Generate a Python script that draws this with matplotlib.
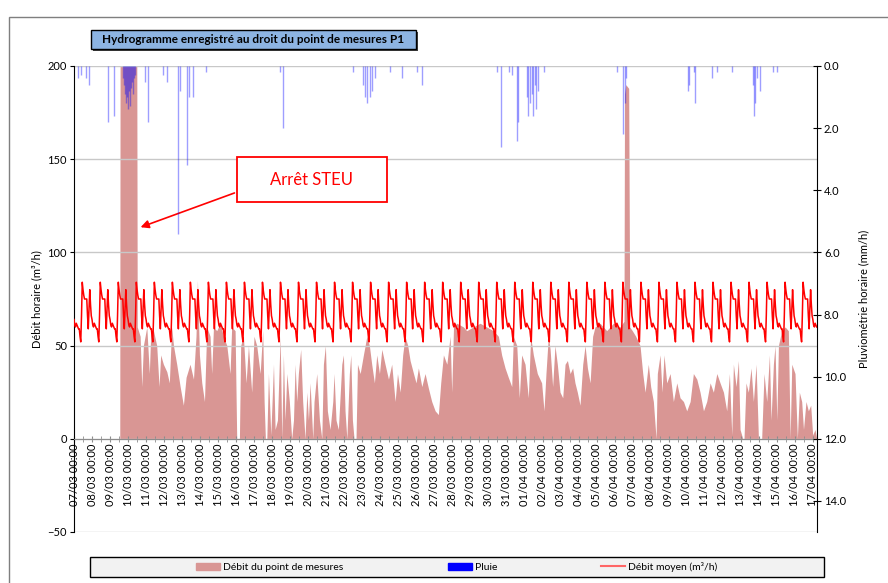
import numpy as np
import pandas as pd
import matplotlib
matplotlib.use('Agg')
import matplotlib.pyplot as plt
import matplotlib.dates as mdates
from matplotlib.patches import Rectangle, Patch
from matplotlib.lines import Line2D

plt.rcParams['font.family'] = ['Lato', 'DejaVu Sans']

# --- données (jours depuis le 07/03 00:00) ---
start = pd.Timestamp('2014-03-07 00:00')

# débit du point de mesures (m3/h), sommets du polygone
flow_days = [0.0, 2.54, 2.56, 3.48, 3.51, 3.67, 3.76, 3.85, 4.04, 4.18, 4.26, 4.41, 4.59,
             4.72, 4.81, 4.96, 5.15, 5.29, 5.42, 5.52, 5.70, 5.89, 6.07, 6.22, 6.44, 6.63,
             6.77, 6.85, 6.96, 7.09, 7.24, 7.37, 7.55, 7.64, 7.74, 7.92, 8.11, 8.29, 8.48,
             8.66, 8.75, 8.94, 9.03, 9.18, 9.25, 9.40, 9.55, 9.68, 9.86, 9.99, 10.14, 10.33,
             10.47, 10.55, 10.62, 10.70, 10.79, 10.92, 11.07, 11.16, 11.29, 11.44, 11.53,
             11.62, 11.71, 11.81, 11.95, 12.08, 12.18, 12.27, 12.36, 12.45, 12.58, 12.69,
             12.82, 12.92, 13.01, 13.10, 13.25, 13.32, 13.47, 13.62, 13.75, 13.84, 13.95,
             14.06, 14.21, 14.36, 14.43, 14.54, 14.67, 14.86, 14.95, 15.04, 15.14, 15.28,
             15.36, 15.45, 15.54, 15.65, 15.73, 15.88, 16.06, 16.25, 16.39, 16.52, 16.67,
             16.80, 16.95, 17.08, 17.26, 17.45, 17.63, 17.82, 17.95, 18.10, 18.24, 18.37,
             18.52, 18.65, 18.84, 18.98, 19.11, 19.30, 19.48, 19.67, 19.85, 20.04, 20.22,
             20.35, 20.50, 20.69, 20.87, 20.96, 21.06, 21.24, 21.61, 21.79, 22.16, 22.53,
             22.90, 23.27, 23.55, 23.73, 23.92, 24.10, 24.29, 24.38, 24.57, 24.71, 24.84,
             25.03, 25.21, 25.34, 25.49, 25.71, 25.95, 26.08, 26.19, 26.32, 26.42, 26.56,
             26.69, 26.82, 26.97, 27.12, 27.25, 27.38, 27.53, 27.67, 27.80, 27.93, 28.08,
             28.23, 28.36, 28.49, 28.64, 28.78, 28.91, 29.19, 29.56, 29.93, 30.30, 30.52,
             30.55, 30.62, 30.78, 30.84, 30.98, 31.17, 31.41, 31.56, 31.69, 31.87, 32.00,
             32.15, 32.30, 32.37, 32.52, 32.63, 32.74, 32.89, 33.08, 33.26, 33.45, 33.63,
             33.82, 34.00, 34.19, 34.37, 34.56, 34.74, 34.93, 35.11, 35.30, 35.48, 35.67,
             35.85, 36.04, 36.22, 36.37, 36.50, 36.59, 36.74, 36.87, 36.96, 37.11, 37.18,
             37.29, 37.42, 37.57, 37.70, 37.85, 37.98, 38.16, 38.29, 38.44, 38.59, 38.68,
             38.81, 38.90, 39.00, 39.09, 39.27, 39.46, 39.64, 39.74, 39.83, 40.01, 40.14,
             40.25, 40.38, 40.48, 40.62, 40.75, 40.88, 40.99, 41.12, 41.21]
flow_vals = [0, 0, 230, 230, 60, 55, 28, 50, 60, 35, 57, 58, 50,
             28, 45, 40, 36, 30, 60, 50, 40, 28, 18, 33, 40, 32,
             55, 85, 45, 30, 20, 60, 55, 35, 60, 58, 62, 55, 50,
             35, 60, 58, 0, 0, 50, 55, 30, 50, 25, 55, 50, 35,
             58, 20, 0, 0, 35, 2, 40, 5, 10, 55, 0,
             45, 10, 35, 20, 0, 10, 40, 20, 35, 48, 20,
             0, 25, 10, 30, 0, 20, 35, 10, 0, 40, 50,
             15, 5, 20, 35, 10, 5, 40, 45, 15, 0, 35,
             45, 10, 0, 0, 40, 35, 45, 55, 50, 40, 30,
             45, 35, 48, 40, 32, 40, 20, 35, 25, 45, 55,
             50, 42, 35, 30, 38, 28, 35, 27, 20, 15, 13,
             30, 45, 40, 55, 25, 60, 62, 60, 58, 60, 62,
             60, 58, 55, 45, 38, 33, 28, 55, 50, 22, 45,
             40, 22, 55, 45, 35, 30, 15, 35, 55, 48, 28,
             50, 40, 25, 22, 40, 42, 35, 38, 30, 25, 18,
             40, 50, 38, 30, 55, 60, 62, 58, 62, 60, 63,
             185, 190, 188, 60, 58, 55, 50, 35, 25, 40, 28,
             20, 0, 35, 45, 25, 45, 30, 35, 20, 30, 22,
             20, 15, 20, 35, 32, 25, 15, 20, 30, 25, 35,
             30, 25, 15, 35, 2, 40, 28, 42, 5, 0, 0,
             30, 25, 38, 20, 40, 0, 0, 35, 20, 45, 10,
             40, 50, 10, 50, 58, 60, 58, 0, 40, 35, 0,
             25, 20, 5, 20, 15, 18, 2, 5, 0]

# débit moyen : profil horaire journalier (0h -> 23h)
mean_profile = [64, 61, 60, 62, 61, 60, 59, 59, 55, 52, 66, 84,
                80, 77, 75, 75, 75, 75, 66, 59, 70, 80, 72, 66]

# pluie (mm/h)
rain_days = [0.22, 0.37, 0.67, 0.85, 1.89, 2.22, 2.72, 2.77, 2.83, 2.89, 2.94, 3.00,
             3.05, 3.11, 3.16, 3.22, 3.27, 3.33, 3.39, 3.94, 4.11, 4.94, 5.16, 5.77,
             5.88, 6.27, 6.38, 6.60, 7.33, 11.43, 11.60, 15.48, 16.04, 16.15, 16.26,
             16.43, 16.54, 16.70, 17.54, 18.20, 19.03, 19.31, 23.47, 23.70, 24.14,
             24.31, 24.58, 24.64, 25.14, 25.19, 25.30, 25.42, 25.47, 25.58, 25.64,
             25.75, 26.08, 30.13, 30.47, 30.58, 30.63, 34.07, 34.13, 34.41, 34.46,
             35.41, 35.68, 36.52, 37.68, 37.74, 37.79, 37.90, 38.07, 38.79, 39.01]
rain_vals = [0.4, 0.3, 0.4, 0.6, 1.8, 1.6, 0.4, 0.6, 0.9, 1.2, 1.0, 1.4,
             0.8, 1.3, 0.7, 0.5, 0.9, 0.4, 0.3, 0.5, 1.8, 0.3, 0.5, 5.4,
             0.8, 3.2, 1.0, 1.0, 0.2, 0.2, 2.0, 0.2, 0.6, 1.0, 1.2,
             1.0, 0.8, 0.4, 0.2, 0.4, 0.2, 0.6, 0.2, 2.6, 0.2,
             0.3, 2.4, 1.8, 1.0, 1.6, 1.2, 0.9, 1.6, 0.6, 1.4,
             0.8, 0.2, 0.2, 2.2, 1.2, 0.4, 0.8, 0.6, 0.2, 1.2,
             0.4, 0.2, 0.2, 0.6, 1.6, 1.2, 0.4, 0.8, 0.2, 0.2]

n_days = 41
x_end = start + pd.Timedelta(days=41.23)

flow_t = start + pd.to_timedelta(flow_days, unit='D')
rain_t = start + pd.to_timedelta(rain_days, unit='D')
mean_t = pd.date_range(start, x_end, freq='h')
mean_v = np.tile(mean_profile, n_days + 1)[:len(mean_t)]

# --- figure ---
fig = plt.figure(figsize=(8.88, 5.83), dpi=100)
ax = fig.add_axes([74/888, 1-532/583, (817-74)/888, (532-66)/583])

# cadre extérieur
fig.add_artist(Rectangle((9/888, -0.1), 1.2, 1.1 - 17/583, transform=fig.transFigure,
                         fill=False, ec='#7f7f7f', lw=1))

ax.fill_between(flow_t, flow_vals, color='#d99694', lw=0, zorder=1)
ax.plot(mean_t, mean_v, color='#ff0000', lw=1.1, zorder=3)

ax.set_ylim(-50, 200)
ax.set_yticks([-50, 0, 50, 100, 150, 200])
ax.set_xlim(start, x_end)
ax.grid(axis='y', color='#c8c8c8', lw=1)
ax.tick_params(axis='y', direction='out', length=3, labelsize=8, pad=2)
ax.set_ylabel('Débit horaire (m³/h)', fontsize=8)

ax.spines['top'].set_visible(False)
ax.spines['right'].set_visible(False)
ax.spines['bottom'].set_position(('data', 0))
ax.spines['bottom'].set_color('#8c8c8c')

ax.xaxis.set_major_locator(mdates.DayLocator())
ax.xaxis.set_minor_locator(mdates.HourLocator(byhour=[12]))
ax.xaxis.set_major_formatter(mdates.DateFormatter('%d/%m %H:%M'))
ax.tick_params(axis='x', which='both', direction='inout', length=5, color='#8c8c8c',
               labelsize=8, labelrotation=90, pad=1)

# axe secondaire : pluie inversée
ax2 = ax.twinx()
ax2.vlines(rain_t, 0, rain_vals, colors=[(0, 0, 1, 0.38)], lw=1)
ax2.set_ylim(15, 0)
ax2.set_yticks(np.arange(0, 15, 2))
ax2.set_yticklabels([f'{v:.1f}' for v in np.arange(0, 15, 2)])
ax2.tick_params(axis='y', direction='inout', length=6, labelsize=8, pad=2)
ax2.set_ylabel('Pluviométrie horaire (mm/h)', fontsize=8, labelpad=9)
ax2.spines['top'].set_visible(False)
ax2.spines['left'].set_visible(False)
ax2.spines['bottom'].set_visible(False)

# annotation Arrêt STEU
d = lambda v: mdates.date2num(start + pd.Timedelta(days=v))
ax.add_patch(Rectangle((d(9.05), 127.1), d(17.37) - d(9.05), 24.1, fc='white', ec='red',
                       lw=1.3, zorder=5))
ax.text(d(13.2), 139, 'Arrêt STEU', color='red', fontsize=12, ha='center', va='center',
        zorder=6)
ax.annotate('', xy=(d(3.55), 113), xytext=(d(9.05), 132.4),
            arrowprops=dict(arrowstyle='-|>', color='red', lw=1.2, mutation_scale=12),
            zorder=6)

# titre en encadré
fig.add_artist(Rectangle((93/888, 1-51/583), 325/888, 19/583, transform=fig.transFigure,
                         fc='#404040', ec='none'))
fig.add_artist(Rectangle((91/888, 1-49/583), 325/888, 19/583, transform=fig.transFigure,
                         fc='#8db4e2', ec='black', lw=1))
fig.text(253.5/888, 1-39.5/583, 'Hydrogramme enregistré au droit du point de mesures P1',
         fontsize=8.5, fontweight='bold', ha='center', va='center')

# légende
fig.add_artist(Rectangle((90/888, 1-577/583), 734/888, 20/583, transform=fig.transFigure,
                         fc='#f2f2f2', ec='black', lw=1))
handles = [Patch(color='#d99694', label='Débit du point de mesures'),
           Patch(color='#0000ff', label='Pluie'),
           Line2D([], [], color='#ff6666', lw=1.5, label='Débit moyen (m³/h)')]
fig.legend(handles=handles, ncol=3, loc='center left', bbox_to_anchor=(191/888, 1-567/583),
           frameon=False, fontsize=7.5, borderpad=0, handlelength=2.3, handleheight=0.7,
           handletextpad=0.3, columnspacing=10.0)

fig.savefig('out.png', dpi=100)
